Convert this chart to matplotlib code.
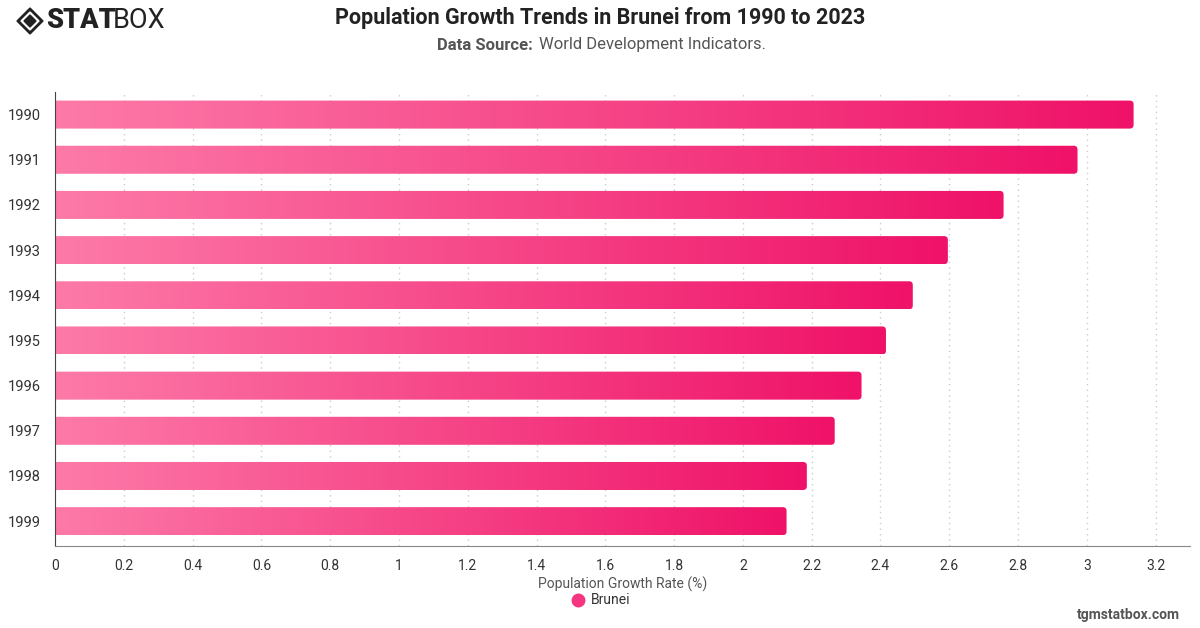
import numpy as np
import matplotlib.pyplot as plt
from matplotlib.patches import FancyBboxPatch, Polygon
from matplotlib.lines import Line2D
from matplotlib.colors import LinearSegmentedColormap

plt.rcParams['font.family'] = ['Roboto', 'DejaVu Sans']

# data
years = ['1990', '1991', '1992', '1993', '1994', '1995', '1996', '1997', '1998', '1999']
growth = [3.136, 2.973, 2.758, 2.596, 2.494, 2.416, 2.345, 2.267, 2.186, 2.127]
xticks = [0, 0.2, 0.4, 0.6, 0.8, 1, 1.2, 1.4, 1.6, 1.8, 2, 2.2, 2.4, 2.6, 2.8, 3, 3.2]

fig = plt.figure(figsize=(12, 6.28), dpi=100)
ax = fig.add_axes([55 / 1200, 1 - 546 / 628, (1190 - 55) / 1200, (546 - 92) / 628])

cmap = LinearSegmentedColormap.from_list('pink', ['#fd7aa8', '#ef1268'])
grad = np.linspace(0, 1, 256).reshape(1, -1)
bar_h = 0.62
ypos = np.arange(len(years))

for y, v in zip(ypos, growth):
    patch = FancyBboxPatch((-0.05, y - bar_h / 2), v + 0.05, bar_h,
                           boxstyle="round,pad=0,rounding_size=0.011",
                           mutation_aspect=7.6, facecolor='none', edgecolor='none')
    ax.add_patch(patch)
    im = ax.imshow(grad, cmap=cmap, aspect='auto', interpolation='bicubic',
                   extent=(0, v, y + bar_h / 2, y - bar_h / 2), zorder=2)
    im.set_clip_path(patch)

ax.set_xlim(0, 3.3)
ax.set_ylim(len(years) - 0.45, -0.5)
ax.set_yticks(ypos)
ax.set_yticklabels(years, fontsize=10.5, color='#333333')
ax.set_xticks(xticks)
ax.set_xticklabels(['%g' % t for t in xticks], fontsize=10, color='#333333')
ax.tick_params(length=0, pad=9)
ax.tick_params(axis='y', pad=10)
ax.grid(axis='x', linestyle=(0, (1, 3)), color='#cccccc', linewidth=1, zorder=0)
ax.set_axisbelow(True)
for s in ['top', 'right']:
    ax.spines[s].set_visible(False)
ax.spines['left'].set_color('#444444')
ax.spines['bottom'].set_color('#888888')

ax.set_xlabel('Population Growth Rate (%)', fontsize=10, color='#555555', labelpad=3)

# legend
fig.add_artist(Line2D([578 / 1200], [1 - 600 / 628], marker='o', markersize=9,
                      color='#f5357f', transform=fig.transFigure))
fig.text(591 / 1200, 1 - 600 / 628, 'Brunei', fontsize=10, color='#333333', va='center')

# titles
fig.text(600 / 1200, 1 - 18 / 628, 'Population Growth Trends in Brunei from 1990 to 2023',
         ha='center', va='center', fontsize=15.5, fontweight='bold', color='#222222')
fig.text(437 / 1200, 1 - 45 / 628, 'Data Source:', ha='left', va='center', fontsize=12,
         fontweight='bold', color='#555555')
fig.text(539 / 1200, 1 - 45 / 628, 'World Development Indicators.', ha='left', va='center',
         fontsize=12, color='#555555')
fig.text(1180 / 1200, 1 - 615 / 628, 'tgmstatbox.com', ha='right', va='center', fontsize=10,
         fontweight='bold', color='#555555')

# logo
cx, cy = 30 / 1200, 1 - 21 / 628
def diamond(rad):
    return [(cx - rad / 1200, cy), (cx, cy + rad / 628), (cx + rad / 1200, cy), (cx, cy - rad / 628)]
fig.patches.append(Polygon(diamond(13), closed=True, transform=fig.transFigure, color='#222222'))
fig.patches.append(Polygon(diamond(9), closed=True, transform=fig.transFigure, color='white'))
fig.patches.append(Polygon(diamond(6), closed=True, transform=fig.transFigure, color='#222222'))
fig.text(46 / 1200, 1 - 21 / 628, 'STAT', ha='left', va='center', fontsize=19.5,
         fontweight='black', color='#222222')
fig.text(113 / 1200, 1 - 21 / 628, 'BOX', ha='left', va='center', fontsize=19.5,
         color='#222222')

fig.savefig('out.png', dpi=100)
